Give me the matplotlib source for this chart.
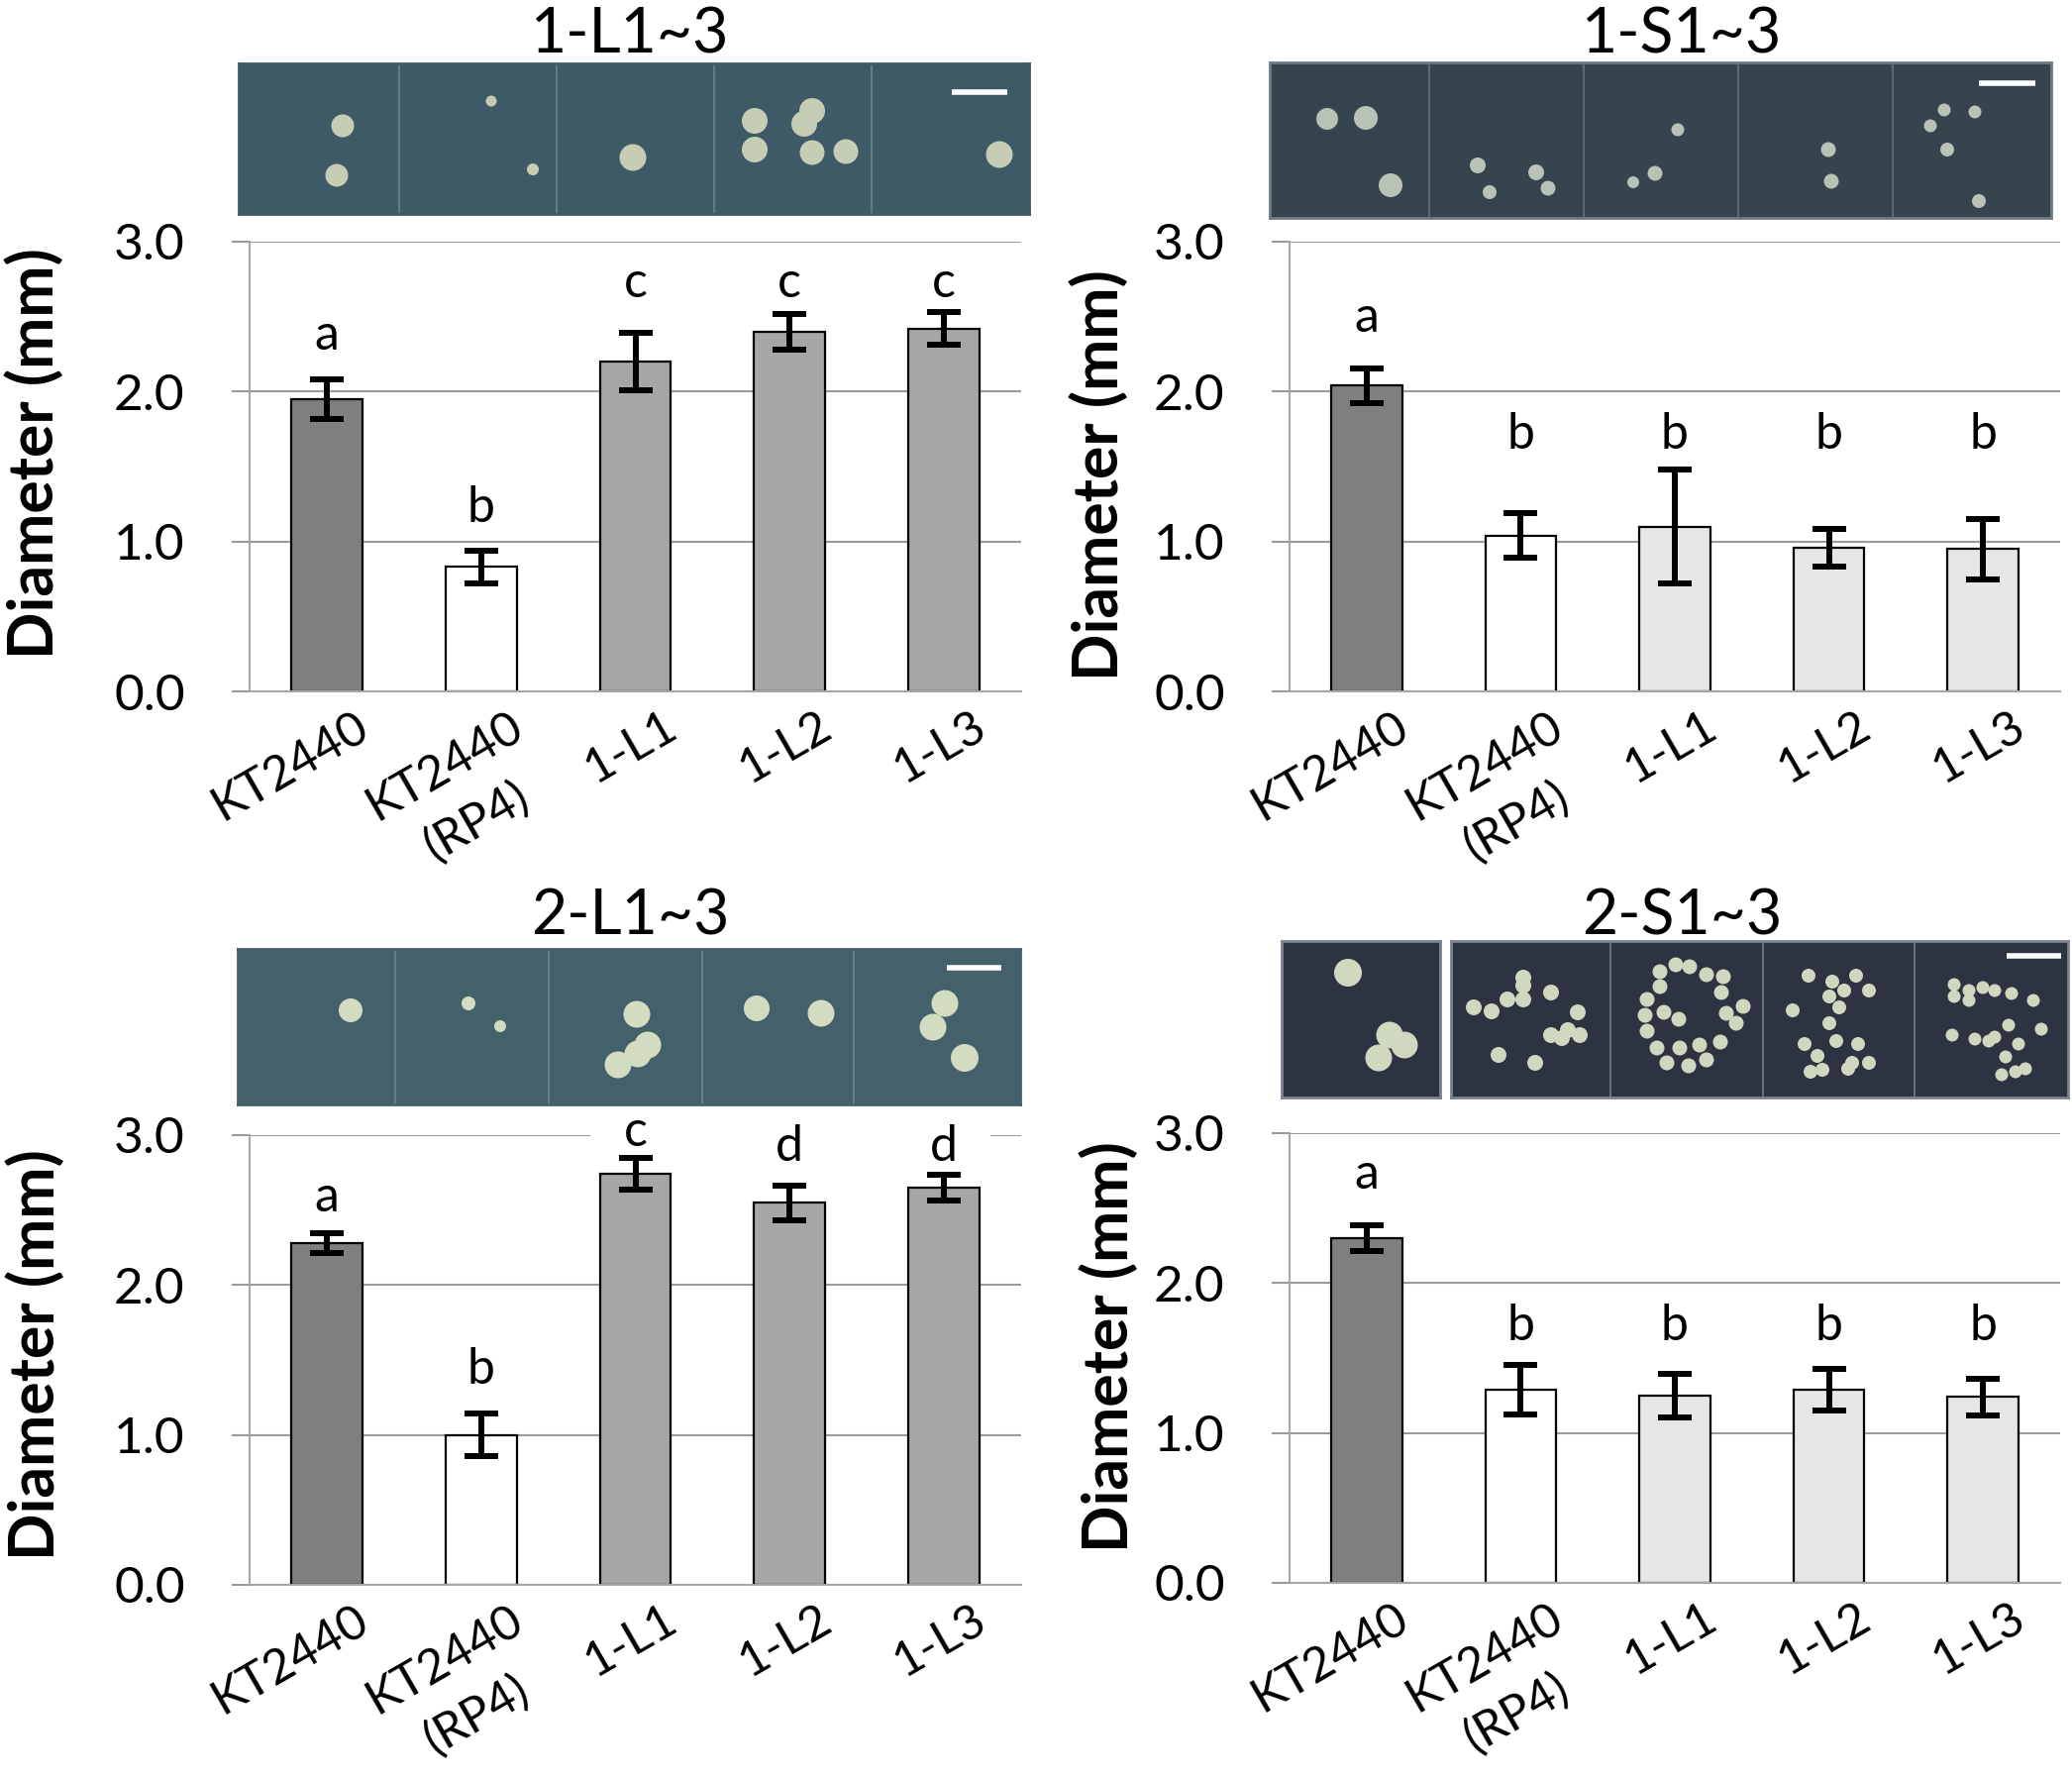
import numpy as np
import matplotlib
matplotlib.use("Agg")
import matplotlib.pyplot as plt
import matplotlib.transforms as mtransforms
from matplotlib.patches import Rectangle
from matplotlib.font_manager import FontProperties

plt.rcParams['font.family'] = ['Lato', 'DejaVu Sans']

# ---- data ----
categories = ["KT2440", "KT2440\n(RP4)", "1-L1", "1-L2", "1-L3"]
titles = ["1-L1~3", "1-S1~3", "2-L1~3", "2-S1~3"]

means_1L = [1.95, 0.83, 2.20, 2.40, 2.42]
err_1L = [0.13, 0.11, 0.19, 0.12, 0.11]
letters_1L = ["a", "b", "c", "c", "c"]
letter_y_1L = [2.28, 1.13, 2.63, 2.63, 2.63]

means_1S = [2.04, 1.04, 1.10, 0.96, 0.95]
err_1S = [0.115, 0.15, 0.38, 0.125, 0.20]
letters_1S = ["a", "b", "b", "b", "b"]
letter_y_1S = [2.40, 1.62, 1.62, 1.62, 1.62]

means_2L = [2.28, 1.00, 2.74, 2.55, 2.65]
err_2L = [0.066, 0.14, 0.105, 0.116, 0.083]
letters_2L = ["a", "b", "c", "d", "d"]
letter_y_2L = [2.49, 1.34, 2.93, 2.83, 2.83]

means_2S = [2.30, 1.29, 1.25, 1.29, 1.24]
err_2S = [0.087, 0.166, 0.147, 0.139, 0.12]
letters_2S = ["a", "b", "b", "b", "b"]
letter_y_2S = [2.63, 1.62, 1.62, 1.62, 1.62]

colors_L = ['#7f7f7f', '#ffffff', '#a6a6a6', '#a6a6a6', '#a6a6a6']
colors_S = ['#7f7f7f', '#ffffff', '#e6e6e6', '#e6e6e6', '#e6e6e6']

# colony photo stand-ins: (x, y, diameter) in pixels inside each strip
colonies_1L = [(105, 63, 23), (99, 113, 23), (255, 38, 11), (297, 107, 12), (398, 95, 27),
               (521, 58, 26), (521, 87, 26), (571, 61, 26), (579, 48, 26), (579, 90, 25),
               (613, 89, 25), (768, 92, 27)]
colonies_1S = [(58, 57, 22), (97, 56, 24), (122, 124, 24), (210, 104, 16), (222, 131, 14),
               (269, 111, 16), (281, 127, 15), (412, 68, 13), (389, 112, 15), (367, 121, 12),
               (564, 88, 15), (567, 120, 15), (667, 64, 13), (681, 48, 13), (712, 50, 13),
               (684, 88, 14), (716, 140, 14)]
colonies_2L = [(114, 62, 24), (233, 55, 14), (265, 78, 12), (403, 66, 27), (414, 97, 27),
               (404, 106, 27), (384, 117, 27), (524, 60, 26), (589, 65, 27), (714, 55, 27),
               (702, 79, 27), (734, 110, 28)]
colonies_2S_a = [(67, 32, 28), (109, 95, 27), (124, 105, 27), (98, 118, 27)]
colonies_2S_b = [(23, 67, 16), (41, 71, 16), (57, 59, 16), (73, 37, 16), (73, 45, 16), (73, 59, 16),
                 (101, 52, 16), (128, 72, 16), (101, 95, 16), (112, 98, 16), (118, 90, 16),
                 (130, 95, 16), (48, 115, 16), (85, 123, 16),
                 (211, 31, 15), (227, 24, 15), (241, 26, 15), (258, 34, 15), (275, 36, 15),
                 (211, 46, 15), (198, 59, 15), (273, 52, 15), (215, 72, 15), (196, 75, 15),
                 (230, 79, 15), (278, 73, 15), (295, 66, 15), (198, 91, 15), (288, 83, 15),
                 (208, 108, 15), (231, 108, 15), (251, 105, 15), (272, 102, 15), (218, 123, 15),
                 (240, 126, 15), (258, 120, 15),
                 (361, 35, 14), (385, 41, 14), (409, 35, 14), (397, 50, 14), (382, 56, 14),
                 (422, 50, 14), (345, 70, 14), (392, 67, 14), (382, 83, 14), (357, 104, 14),
                 (389, 101, 14), (411, 104, 14), (370, 116, 14), (405, 123, 14), (363, 132, 14),
                 (375, 130, 14), (401, 129, 14), (422, 123, 14),
                 (508, 44, 13), (523, 50, 13), (537, 47, 13), (549, 50, 13), (566, 53, 13),
                 (508, 56, 13), (523, 60, 13), (588, 60, 13), (563, 85, 13), (549, 97, 13),
                 (506, 95, 13), (529, 99, 13), (543, 101, 13), (573, 104, 13), (596, 89, 13),
                 (560, 117, 13), (556, 135, 13), (570, 132, 13), (580, 129, 13)]

W, H = 2092, 1795
fig = plt.figure(figsize=(W / 100, H / 100), dpi=100)
renderer = fig.canvas.get_renderer()

TICK_FS = 37
XLAB_FS = 35
ROT = 30
LAB_DX, LAB_PAD = 20, 9  # points: shift of rotated labels right / below axis
LINE_STEP = 46  # points between the two lines of a wrapped label


def fig_rect(x0, y0, x1, y1):
    return [x0 / W, 1 - y1 / H, (x1 - x0) / W, (y1 - y0) / H]


def text_width_pt(s, size):
    w, h, d = renderer.get_text_width_height_descent(s, FontProperties(family=['Lato'], size=size), ismath=False)
    return w * 72 / fig.dpi


def draw_strip(x0, y0, w, h, bg, sep_color, seps, colonies, col_color, scale_bar=None, edge=None):
    sa = fig.add_axes(fig_rect(x0, y0, x0 + w, y0 + h))
    sa.set_xlim(0, w)
    sa.set_ylim(h, 0)
    sa.set_facecolor(bg)
    sa.set_xticks([])
    sa.set_yticks([])
    for s in sa.spines.values():
        s.set_color(edge if edge else bg)
        s.set_linewidth(2)
    for s in seps:
        sa.axvline(s, color=sep_color, lw=1.5)
    xs = [c[0] for c in colonies]
    ys = [c[1] for c in colonies]
    ds = np.array([c[2] for c in colonies]) * 0.72
    sa.scatter(xs, ys, s=ds ** 2, color=col_color, edgecolors='none', zorder=3)
    if scale_bar:
        sa.plot(scale_bar[:2], [scale_bar[2]] * 2, color='white', lw=4, solid_capstyle='butt')
    return sa


def draw_panel(rect, means, errs, colors, letters, letter_y, ylab_xy, gap=None):
    ax = fig.add_axes(fig_rect(*rect))
    x = np.arange(len(categories))
    ax.set_axisbelow(True)
    ax.yaxis.grid(True, color='#9a9a9a', lw=1.5)
    ax.bar(x, means, width=0.46, color=colors, edgecolor='black', linewidth=1.6, zorder=2)
    ax.errorbar(x, means, yerr=errs, fmt='none', ecolor='black', elinewidth=4.3,
                capsize=12, capthick=4.3, zorder=3)
    for xi, lt, ly in zip(x, letters, letter_y):
        ax.text(xi, ly, lt, ha='center', va='baseline', fontsize=36, zorder=4)
    if gap:
        ax.add_patch(Rectangle((gap[0], 2.95), gap[1] - gap[0], 0.1, facecolor='white',
                               edgecolor='none', zorder=1, clip_on=False))
    ax.set_xlim(-0.5, len(categories) - 0.5)
    ax.set_ylim(0, 3.0)
    ax.set_yticks([0, 1, 2, 3])
    ax.set_yticklabels(["0.0", "1.0", "2.0", "3.0"])
    ax.tick_params(axis='y', length=13, width=1.5, color='#9a9a9a', labelsize=TICK_FS, pad=34)

    # rotated category labels; the second line of a wrapped label is its own text
    first_lines = [c.split("\n")[0] for c in categories]
    ax.set_xticks(x)
    ax.set_xticklabels(first_lines, rotation=ROT, ha='right', va='top',
                       rotation_mode='anchor', fontsize=XLAB_FS)
    ax.tick_params(axis='x', length=0, pad=LAB_PAD)
    shift = mtransforms.ScaledTranslation(LAB_DX / 72, 0, fig.dpi_scale_trans)
    for lab in ax.get_xticklabels():
        lab.set_transform(lab.get_transform() + shift)
    a = np.radians(ROT)
    for xi, c in zip(x, categories):
        if "\n" not in c:
            continue
        l1, l2 = c.split("\n")
        half = text_width_pt(l1, XLAB_FS) / 2
        ox = LAB_DX - half * np.cos(a) + LINE_STEP * np.sin(a)
        oy = -LAB_PAD - half * np.sin(a) - LINE_STEP * np.cos(a)
        ax.annotate(l2, xy=(xi, 0), xycoords=ax.get_xaxis_transform(),
                    xytext=(ox, oy), textcoords='offset points', rotation=ROT,
                    ha='center', va='top', rotation_mode='anchor', fontsize=XLAB_FS,
                    annotation_clip=False)

    for side in ['top', 'right']:
        ax.spines[side].set_visible(False)
    for side in ['left', 'bottom']:
        ax.spines[side].set_color('#a6a6a6')
        ax.spines[side].set_linewidth(1.5)
    ax.set_ylabel("Diameter (mm)", fontsize=45, fontweight='bold')
    ax.yaxis.set_label_coords(*ylab_xy)
    return ax


# ---- bar panels ----
draw_panel((252, 244, 1031, 698), means_1L, err_1L, colors_L, letters_1L, letter_y_1L, (-0.240, 0.529))
draw_panel((1302, 244, 2080, 698), means_1S, err_1S, colors_S, letters_1S, letter_y_1S, (-0.208, 0.482))
draw_panel((252, 1146, 1031, 1600), means_2L, err_2L, colors_L, letters_2L, letter_y_2L, (-0.239, 0.511),
           gap=(1.71, 4.30))
draw_panel((1302, 1144, 2080, 1598), means_2S, err_2S, colors_S, letters_2S, letter_y_2S, (-0.195, 0.526))

# ---- titles ----
fig.text(636 / W, 1 - 53 / H, titles[0], ha='center', va='baseline', fontsize=45)
fig.text(1698 / W, 1 - 53 / H, titles[1], ha='center', va='baseline', fontsize=45)
fig.text(636 / W, 1 - 943 / H, titles[2], ha='center', va='baseline', fontsize=45)
fig.text(1698 / W, 1 - 943 / H, titles[3], ha='center', va='baseline', fontsize=45)

# ---- colony photo strips ----
draw_strip(241, 64, 798, 152, '#3f5a67', '#5f7a88', [162, 321, 480, 639], colonies_1L, '#c6cdb5',
           (720, 776, 29))
draw_strip(1282, 63, 789, 157, '#36444d', '#5a6a74', [161, 317, 473, 629], colonies_1S, '#b9c2b6',
           (716, 773, 21), edge='#6d7b84')
draw_strip(240, 958, 790, 157, '#43606b', '#62808c', [159, 314, 469, 622], colonies_2L, '#d2dcc0',
           (716, 771, 19))
draw_strip(1294, 950, 160, 158, '#2e3342', '#5c6170', [], colonies_2S_a, '#d0d9c0', edge='#7d8290')
draw_strip(1465, 950, 623, 158, '#2e3342', '#6a6f7e', [161, 315, 468], colonies_2S_b, '#cfd8bf',
           (561, 616, 15), edge='#7d8290')

fig.savefig("out.png", dpi=100)
